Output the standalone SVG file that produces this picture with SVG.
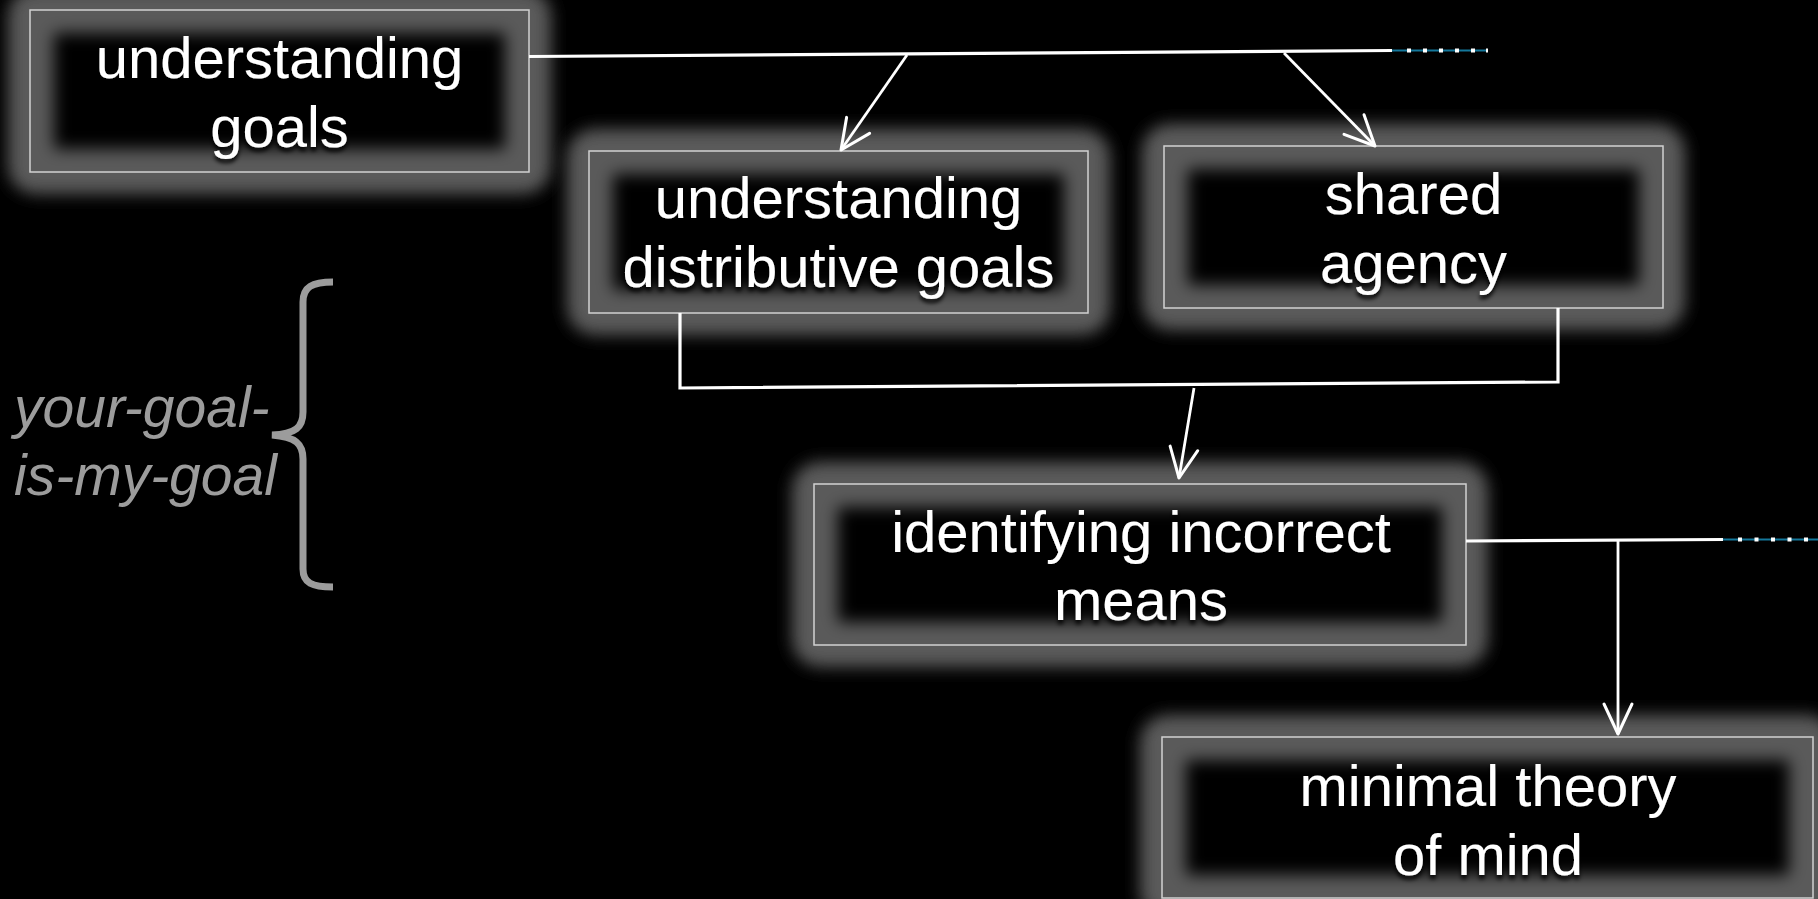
<svg xmlns="http://www.w3.org/2000/svg" width="1818" height="899" viewBox="0 0 1818 899">
<defs>
<filter id="blurOuter" x="-20%" y="-30%" width="140%" height="160%"><feGaussianBlur stdDeviation="8"/></filter>
<filter id="blurInner" x="-20%" y="-30%" width="140%" height="160%"><feGaussianBlur stdDeviation="8"/></filter>
<filter id="tshadow" x="-10%" y="-30%" width="120%" height="170%"><feDropShadow dx="0" dy="4" stdDeviation="2" flood-color="#000" flood-opacity="0.95"/></filter>
<marker id="arr" markerUnits="userSpaceOnUse" viewBox="-34 -18 38 36" refX="0" refY="0" markerWidth="38" markerHeight="36" orient="auto" overflow="visible">
<path d="M-30,-14 L0,0 L-30,14" fill="none" stroke="#fff" stroke-width="3" stroke-linecap="round" stroke-linejoin="round"/>
</marker>
<style>
.glow{fill:#5a5a5a;filter:url(#blurOuter)}
.inner{fill:#000;filter:url(#blurInner)}
.frame{fill:none;stroke:#d2d2d2;stroke-width:1.5}
.lbl{font-family:"Liberation Sans",Arial,sans-serif;font-size:58px;fill:#fff;text-anchor:middle;filter:url(#tshadow)}
.side{font-family:"Liberation Sans",Arial,sans-serif;font-size:57px;font-style:italic;fill:#9c9c9c}
.conn{fill:none;stroke:#fff;stroke-width:3.2}
.arrow{fill:none;stroke:#fff;stroke-width:2.8;marker-end:url(#arr)}
.blue{stroke:#14789c;stroke-width:2;fill:none}
.tick{stroke:#fff;stroke-width:4;fill:none}
</style>
</defs>
<rect x="0" y="0" width="1818" height="899" fill="#000"/>

<g id="node-understanding-goals">
<rect class="glow" x="8" y="-12" width="543" height="206" rx="28"/>
<rect class="inner" x="54" y="33" width="451" height="116"/>
<rect class="frame" x="30" y="10" width="499" height="162"/>
<text class="lbl" x="279.5" y="78">understanding</text>
<text class="lbl" x="279.5" y="147">goals</text>
</g>

<g id="node-distributive-goals">
<rect class="glow" x="567" y="129" width="543" height="206" rx="28"/>
<rect class="inner" x="613" y="174" width="451" height="116"/>
<rect class="frame" x="589" y="151" width="499" height="162"/>
<text class="lbl" x="838.5" y="218">understanding</text>
<text class="lbl" x="838.5" y="287">distributive goals</text>
</g>

<g id="node-shared-agency">
<rect class="glow" x="1142" y="124" width="543" height="206" rx="28"/>
<rect class="inner" x="1188" y="169" width="451" height="116"/>
<rect class="frame" x="1164" y="146" width="499" height="162"/>
<text class="lbl" x="1413.5" y="214">shared</text>
<text class="lbl" x="1413.5" y="283">agency</text>
</g>

<g id="node-incorrect-means">
<rect class="glow" x="792" y="462" width="696" height="205" rx="28"/>
<rect class="inner" x="838" y="507" width="604" height="115"/>
<rect class="frame" x="814" y="484" width="652" height="161"/>
<text class="lbl" x="1141" y="552">identifying incorrect</text>
<text class="lbl" x="1141" y="620">means</text>
</g>

<g id="node-minimal-tom">
<rect class="glow" x="1140" y="715" width="695" height="205" rx="28"/>
<rect class="inner" x="1186" y="760" width="603" height="115"/>
<rect class="frame" x="1162" y="737" width="651" height="161"/>
<text class="lbl" x="1488" y="806">minimal theory</text>
<text class="lbl" x="1488" y="875">of mind</text>
</g>

<g id="brace-label">
<path d="M333,282 C312,282 303,287 303,302 L303,412 C303,427 296,434 272,435 C296,437 303,444 303,459 L303,569 C303,583 312,587 333,587" fill="none" stroke="#9c9c9c" stroke-width="7"/>
<text class="side" x="14" y="427">your-goal-</text>
<text class="side" x="14" y="495">is-my-goal</text>
</g>

<g id="connectors">
<line class="conn" x1="529" y1="56.5" x2="1392" y2="50.5"/>
<line class="blue" x1="1392" y1="50.5" x2="1488" y2="50.5"/>
<path class="tick" d="M1407,50.5h4M1423,50.5h4M1439,50.5h4M1455,50.5h4M1471,50.5h4M1486,50.5h2"/>
<line class="arrow" x1="907" y1="55" x2="841" y2="150"/>
<line class="arrow" x1="1284" y1="53" x2="1375" y2="146"/>
<polyline class="conn" points="680,313 680,388 1558,382 1558,308"/>
<line class="arrow" x1="1194" y1="388" x2="1179" y2="478"/>
<line class="conn" x1="1466" y1="541" x2="1723" y2="539.5"/>
<line class="blue" x1="1723" y1="539.5" x2="1818" y2="539.5"/>
<path class="tick" d="M1738,539.5h4M1754.5,539.5h4M1771,539.5h4M1787.5,539.5h4M1804,539.5h4"/>
<line class="arrow" x1="1618" y1="541" x2="1618" y2="734"/>
</g>
</svg>
